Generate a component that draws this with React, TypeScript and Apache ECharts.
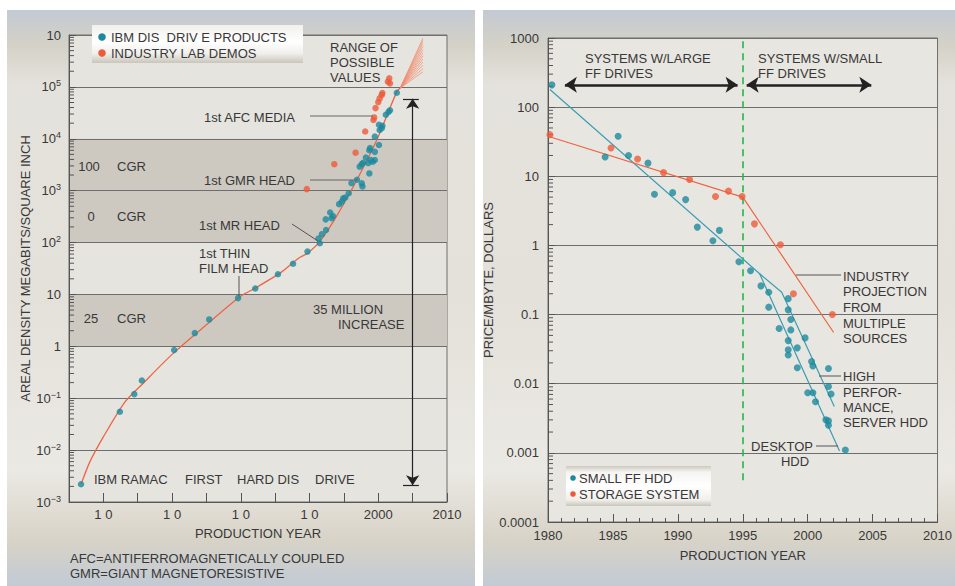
import React, { useEffect, useRef } from "react";
import * as echarts from "echarts";

const FONT = '"Liberation Sans", Arial, Helvetica, sans-serif';
const TEXT = "#383838";
const BLUE = "#1b8a9e";
const RED = "#ee5a3a";
const GRID = "#6e6e6e";

// ---------------- Left chart: areal density ----------------
const ibmYears = [1956.75, 1962.4, 1964.5, 1965.6, 1970.3, 1973.3, 1975.4, 1979.6, 1982.1, 1985.4, 1987.6, 1989.7, 1991.5, 1991.3, 1991.8, 1992.4, 1992.35, 1993.0, 1993.4, 1993.2, 1994.3, 1994.7, 1994.9, 1995.2, 1995.7, 1996.1, 1996.9, 1997.6, 1997.7, 1997.3, 1997.6, 1997.8, 1998.7, 1998.2, 1998.55, 1998.9, 1999.2, 1999.5, 1998.7, 1999.5, 2000.1, 1998.8, 1999.5, 2000.2, 2000.5, 2000.1, 2000.6, 2001.1, 2001.5, 2001.7, 2002.7];
const ibmDensity = [0.0022, 0.055, 0.12, 0.22, 0.85, 1.8, 3.3, 8.5, 13, 24.5, 39, 67, 97, 120, 145, 175, 280, 380, 325, 295, 550, 615, 710, 740, 890, 1400, 1620, 1380, 1200, 2900, 3250, 3450, 2150, 4350, 3400, 3900, 3600, 3900, 6000, 5600, 7600, 6600, 11000, 14800, 16000, 18600, 17800, 29000, 33000, 35500, 77000];
const demoYears = [1989.6, 1993.6, 1996.7, 1998.1, 1999.3, 1999.4, 1999.6, 2000.0, 2000.2, 2000.5, 2000.6, 2001.4, 2001.6, 2001.7];
const demoDensity = [1070, 3240, 5400, 13800, 23000, 25800, 39000, 51000, 60000, 70000, 76000, 126000, 147000, 117000];
const trendYears = [1956.75, 1958.05, 1960.0, 1963.15, 1965.8, 1970, 1975, 1980, 1982.1, 1986, 1988.4, 1989.7, 1991.5, 1993.9, 1996.9, 1999.8, 2002.7, 2003.2];
const trendDensity = [0.0022, 0.006, 0.018, 0.085, 0.195, 0.7, 2.6, 9.3, 13.2, 27.5, 50, 62, 105, 316, 1620, 9550, 81000, 95000];
const fanStartYear = 2003.2;
const fanStartDensity = 95000;
const fanEndYear = 2006.5;
const fanEndDensity = [195000, 225000, 260000, 300000, 345000, 395000, 450000, 520000, 600000, 690000, 780000, 870000];
const bandLow = [100, 1];
const bandHigh = [10000, 10];
const leftLabelYears = [1960, 1970, 1980, 1990, 2000, 2010];
const leftLabelTexts = ["1 0", "1 0", "1 0", "1 0", "2000", "2010"];
const increaseYear = 2005;
const increaseFrom = 0.0021;
const increaseTo = 59000;
const capFromYear = 2003.6;
const capToYear = 2005.9;
const leftDecades = [0.001, 0.01, 0.1, 1, 10, 100, 1000, 10000, 100000];

// ---------------- Right chart: price per MByte ----------------
const hddYears = [1980.3, 1984.4, 1985.4, 1986.2, 1987.7, 1988.2, 1989.6, 1990.6, 1991.5, 1993.2, 1992.7, 1994.7, 1995.6, 1996.4, 1997.0, 1997.0, 1998.5, 1998.5, 1998.7, 1997.8, 1998.7, 1998.5, 1999.8, 1998.5, 1999.2, 1998.5, 1999.2, 2000.3, 2000.4, 2001.6, 2001.6, 2001.8, 2000.0, 2000.4, 2000.6, 2001.4, 2001.6, 2001.6, 2002.9];
const hddPrice = [210, 19, 38, 20, 15.5, 5.5, 5.8, 4.6, 1.84, 1.65, 1.17, 0.58, 0.43, 0.26, 0.21, 0.128, 0.17, 0.117, 0.085, 0.063, 0.06, 0.042, 0.046, 0.031, 0.033, 0.026, 0.017, 0.021, 0.018, 0.0166, 0.0091, 0.0071, 0.0074, 0.0074, 0.0055, 0.003, 0.0029, 0.0025, 0.0011];
const storageYears = [1980.15, 1984.85, 1986.9, 1988.9, 1990.9, 1992.9, 1993.9, 1994.95, 1995.9, 1997.9, 1998.9, 2001.9];
const storagePrice = [40, 25.6, 17.8, 11.3, 9, 5.1, 6.1, 5.1, 2.05, 1.02, 0.2, 0.1];
const desktopYears = [1980.15, 1996.3, 2002.45];
const desktopPrice = [180, 0.39, 0.00106];
const serverYears = [1996.3, 1998.0, 2002.05];
const serverPrice = [0.39, 0.21, 0.0047];
const storageTrendYears = [1980.0, 1995.0, 2002.0];
const storageTrendPrice = [38, 5.0, 0.055];
const rightYLabels = ["0.0001", "0.001", "0.01", "0.1", "1", "10", "100", "1000"];
const splitYear = 1995;
const splitFrom = 0.0004;
const splitTo = 1000;
const arrowLevel = 210;
const largeSpan = [1981.3, 1994.6];
const smallSpan = [1995.3, 2004.9];
const rightDecades = [0.0001, 0.001, 0.01, 0.1, 1, 10, 100];

// log-axis minor tick multipliers (2..9 within each decade)
const minorSteps = [2, 3, 4, 5, 6, 7, 8, 9];

const pts = (xs: number[], ys: number[]) => xs.map((x, i) => [x, ys[i]]);
const minorTickData = (x0: number, decades: number[]) => {
  const out: number[][] = [];
  decades.forEach((d) => minorSteps.forEach((m) => out.push([x0, +(d * m).toPrecision(6)])));
  return out;
};

const txt = (text: string, x: number, y: number, align = "left", extra: any = {}) => ({
  type: "text",
  x,
  y,
  z: 30,
  silent: true,
  style: { text, fill: TEXT, fontSize: 13, fontFamily: FONT, align, verticalAlign: "middle", ...extra },
});
const seg = (x1: number, y1: number, x2: number, y2: number, color = "#555", w = 1) => ({
  type: "line",
  z: 30,
  silent: true,
  shape: { x1, y1, x2, y2 },
  style: { stroke: color, lineWidth: w },
});

const panelFill = {
  type: "linear",
  x: 0,
  y: 0,
  x2: 0,
  y2: 1,
  colorStops: [
    { offset: 0, color: "#c3cad3" },
    { offset: 0.06, color: "#d4d1c7" },
    { offset: 0.13, color: "#e4e2dc" },
    { offset: 0.5, color: "#e4e1da" },
    { offset: 0.8, color: "#ebe9e4" },
    { offset: 0.92, color: "#d8d3c7" },
    { offset: 1, color: "#c2cad4" },
  ],
};

const legendFillLeft = {
  type: "linear",
  x: 0,
  y: 0,
  x2: 0,
  y2: 1,
  colorStops: [
    { offset: 0, color: "#f1f0ec" },
    { offset: 0.45, color: "#ffffff" },
    { offset: 0.75, color: "#f0efeb" },
    { offset: 1, color: "#c9c5bb" },
  ],
};
const legendFillRight = {
  type: "linear",
  x: 0,
  y: 0,
  x2: 0,
  y2: 1,
  colorStops: [
    { offset: 0, color: "#cdc9c0" },
    { offset: 0.15, color: "#f5f4f1" },
    { offset: 0.5, color: "#ffffff" },
    { offset: 0.85, color: "#f0efeb" },
    { offset: 1, color: "#c9c5bb" },
  ],
};

const leftYFormatter = (v: number) => {
  const e = Math.round(Math.log10(v));
  if (e === 6 || e === 1) return "{n|10}";
  if (e === 0) return "{n|1}";
  return `{n|10}{s|${e < 0 ? "\u2212" : ""}${Math.abs(e)}}`;
};

const ms = (coordA: number[], coordB: number[], extra: any = {}) => [
  { coord: coordA, ...extra },
  { coord: coordB, ...extra },
];

const minorTickSeries = (xi: number, data: number[][]) => ({
  name: "minor ticks " + xi,
  type: "custom",
  xAxisIndex: xi,
  yAxisIndex: xi,
  z: 4,
  silent: true,
  clip: false,
  data,
  renderItem: (_p: any, api: any) => {
    const p = api.coord([api.value(0), api.value(1)]);
    return {
      type: "line",
      shape: { x1: p[0], y1: p[1], x2: p[0] + 5, y2: p[1] },
      style: { stroke: "#555", lineWidth: 1 },
    };
  },
});

const option: any = {
  animation: false,
  textStyle: { fontFamily: FONT },
  grid: [
    { left: 69, top: 35, width: 378, height: 467, show: true, backgroundColor: "#e6e4df", borderColor: GRID, borderWidth: 1, z: 0 },
    { left: 548, top: 38, width: 390, height: 484, show: true, backgroundColor: "#e8e6e1", borderColor: GRID, borderWidth: 1, z: 0 },
  ],
  xAxis: [
    {
      type: "value",
      gridIndex: 0,
      min: 1955,
      max: 2010,
      interval: 5,
      z: 3,
      axisLine: { lineStyle: { color: "#555" } },
      axisTick: { inside: true, length: 9, lineStyle: { color: "#555" } },
      axisLabel: {
        margin: 6,
        color: TEXT,
        fontSize: 13,
        formatter: (v: number) => {
          const i = leftLabelYears.indexOf(v);
          return i >= 0 ? leftLabelTexts[i] : "";
        },
      },
      splitLine: { show: false },
      name: "PRODUCTION YEAR",
      nameLocation: "middle",
      nameGap: 25,
      nameTextStyle: { color: TEXT, fontSize: 13 },
    },
    {
      type: "value",
      gridIndex: 1,
      min: 1980,
      max: 2010,
      interval: 5,
      z: 3,
      axisLine: { lineStyle: { color: "#555" } },
      axisTick: { inside: true, length: 8, lineStyle: { color: "#555" } },
      minorTick: { show: true, splitNumber: 5, length: 4, lineStyle: { color: "#555" } },
      axisLabel: { margin: 7, color: TEXT, fontSize: 13, formatter: (v: number) => String(v) },
      splitLine: { show: false },
      name: "PRODUCTION YEAR",
      nameLocation: "middle",
      nameGap: 27,
      nameTextStyle: { color: TEXT, fontSize: 13 },
    },
  ],
  yAxis: [
    {
      type: "log",
      logBase: 10,
      gridIndex: 0,
      min: 0.001,
      max: 1000000,
      splitNumber: 9,
      z: 3,
      axisLine: { lineStyle: { color: "#555" } },
      axisTick: { inside: true, length: 7, lineStyle: { color: "#555" } },
      splitLine: { show: true, lineStyle: { color: GRID, width: 1 } },
      axisLabel: {
        margin: 8,
        formatter: leftYFormatter,
        rich: {
          n: { fontSize: 13, color: TEXT, fontFamily: FONT, lineHeight: 16 },
          s: { fontSize: 9, color: TEXT, fontFamily: FONT, lineHeight: 9, verticalAlign: "top" },
        },
      },
      name: "AREAL DENSITY MEGABITS/SQUARE INCH",
      nameLocation: "middle",
      nameGap: 34,
      nameTextStyle: { color: TEXT, fontSize: 13 },
    },
    {
      type: "log",
      logBase: 10,
      gridIndex: 1,
      min: 0.0001,
      max: 1000,
      splitNumber: 7,
      z: 3,
      axisLine: { lineStyle: { color: "#555" } },
      axisTick: { inside: true, length: 7, lineStyle: { color: "#555" } },
      splitLine: { show: true, lineStyle: { color: GRID, width: 1 } },
      axisLabel: {
        margin: 9,
        color: TEXT,
        fontSize: 13,
        formatter: (v: number) => rightYLabels[Math.round(Math.log10(v)) + 4] ?? "",
      },
      name: "PRICE/MBYTE, DOLLARS",
      nameLocation: "middle",
      nameGap: 38,
      nameTextStyle: { color: TEXT, fontSize: 13 },
    },
  ],
  series: [
    {
      name: "bands",
      type: "line",
      xAxisIndex: 0,
      yAxisIndex: 0,
      z: 1,
      silent: true,
      symbol: "none",
      data: [[1955, 1]],
      lineStyle: { width: 0 },
      markArea: {
        silent: true,
        itemStyle: { color: "#cdc9c1" },
        data: bandLow.map((lo, i) => [{ yAxis: lo }, { yAxis: bandHigh[i] }]),
      },
    },
    minorTickSeries(0, minorTickData(1955, leftDecades)),
    {
      name: "range",
      type: "line",
      xAxisIndex: 0,
      yAxisIndex: 0,
      z: 4,
      silent: true,
      symbol: "none",
      data: [[fanStartYear, fanStartDensity]],
      lineStyle: { width: 0 },
      markLine: {
        silent: true,
        symbol: "none",
        label: { show: false },
        lineStyle: { color: "#f08a6c", width: 0.7, type: "solid" },
        data: fanEndDensity.map((v) => ms([fanStartYear, fanStartDensity], [fanEndYear, v])),
      },
    },
    {
      name: "trend",
      type: "line",
      xAxisIndex: 0,
      yAxisIndex: 0,
      z: 5,
      symbol: "none",
      smooth: 0.25,
      data: pts(trendYears, trendDensity),
      lineStyle: { color: "#ee6444", width: 1.3 },
    },
    {
      name: "increase",
      type: "line",
      xAxisIndex: 0,
      yAxisIndex: 0,
      z: 5,
      silent: true,
      symbol: "none",
      data: [[increaseYear, increaseTo]],
      lineStyle: { width: 0 },
      markLine: {
        silent: true,
        label: { show: false },
        symbol: ["arrow", "arrow"],
        symbolSize: 10,
        lineStyle: { color: "#222", width: 1.2, type: "solid" },
        data: [
          ms([increaseYear, increaseFrom], [increaseYear, increaseTo]),
          ms([capFromYear, increaseTo], [capToYear, increaseTo], { symbol: "none" }),
          ms([capFromYear, increaseFrom], [capToYear, increaseFrom], { symbol: "none" }),
        ],
      },
    },
    {
      name: "INDUSTRY LAB DEMOS",
      type: "scatter",
      xAxisIndex: 0,
      yAxisIndex: 0,
      z: 6,
      symbolSize: 6.5,
      itemStyle: { color: RED },
      data: pts(demoYears, demoDensity),
    },
    {
      name: "IBM DISK DRIVE PRODUCTS",
      type: "scatter",
      xAxisIndex: 0,
      yAxisIndex: 0,
      z: 7,
      symbolSize: 6.5,
      itemStyle: { color: BLUE },
      data: pts(ibmYears, ibmDensity),
    },
    // ---------- right ----------
    minorTickSeries(1, minorTickData(1980, rightDecades)),
    {
      name: "split",
      type: "line",
      xAxisIndex: 1,
      yAxisIndex: 1,
      z: 4,
      silent: true,
      symbol: "none",
      data: [[splitYear, splitTo]],
      lineStyle: { width: 0 },
      markLine: {
        silent: true,
        label: { show: false },
        symbol: "none",
        data: [
          ms([splitYear, splitFrom], [splitYear, splitTo], { lineStyle: { color: "#22b84a", width: 1.6, type: [7, 5] } }),
          ms([largeSpan[0], arrowLevel], [largeSpan[1], arrowLevel], {
            symbol: "arrow",
            symbolSize: 12,
            lineStyle: { color: "#222", width: 2.6, type: "solid" },
          }),
          ms([smallSpan[0], arrowLevel], [smallSpan[1], arrowLevel], {
            symbol: "arrow",
            symbolSize: 12,
            lineStyle: { color: "#222", width: 2.6, type: "solid" },
          }),
        ],
      },
    },
    {
      name: "desktop trend",
      type: "line",
      xAxisIndex: 1,
      yAxisIndex: 1,
      z: 5,
      symbol: "none",
      data: pts(desktopYears, desktopPrice),
      lineStyle: { color: "#3c9db2", width: 1.2 },
    },
    {
      name: "server trend",
      type: "line",
      xAxisIndex: 1,
      yAxisIndex: 1,
      z: 5,
      symbol: "none",
      data: pts(serverYears, serverPrice),
      lineStyle: { color: "#3c9db2", width: 1.2 },
    },
    {
      name: "storage trend",
      type: "line",
      xAxisIndex: 1,
      yAxisIndex: 1,
      z: 5,
      symbol: "none",
      data: pts(storageTrendYears, storageTrendPrice),
      lineStyle: { color: "#ee6444", width: 1.2 },
    },
    {
      name: "STORAGE SYSTEM",
      type: "scatter",
      xAxisIndex: 1,
      yAxisIndex: 1,
      z: 6,
      symbolSize: 7,
      itemStyle: { color: RED },
      data: pts(storageYears, storagePrice),
    },
    {
      name: "SMALL FF HDD",
      type: "scatter",
      xAxisIndex: 1,
      yAxisIndex: 1,
      z: 7,
      symbolSize: 7,
      itemStyle: { color: BLUE },
      data: pts(hddYears, hddPrice),
    },
  ],
  graphic: [
    { type: "rect", z: -10, silent: true, shape: { x: 7, y: 10, width: 468, height: 576 }, style: { fill: panelFill } },
    { type: "rect", z: -10, silent: true, shape: { x: 483, y: 10, width: 472, height: 576 }, style: { fill: panelFill } },
    // left legend
    { type: "rect", z: 25, silent: true, shape: { x: 92, y: 25, width: 211, height: 38 }, style: { fill: legendFillLeft } },
    { type: "circle", z: 30, silent: true, shape: { cx: 102, cy: 37, r: 3.8 }, style: { fill: BLUE } },
    { type: "circle", z: 30, silent: true, shape: { cx: 102, cy: 53, r: 3.8 }, style: { fill: RED } },
    txt("IBM DIS  DRIV E PRODUCTS", 111, 37),
    txt("INDUSTRY LAB DEMOS", 111, 53),
    // left annotations
    txt("RANGE OF", 330, 47),
    txt("POSSIBLE", 330, 62),
    txt("VALUES", 330, 77),
    txt("1st AFC MEDIA", 295, 117, "right"),
    seg(310, 116, 373, 116, "#666"),
    txt("100", 89, 166, "center"),
    txt("CGR", 117, 166),
    txt("1st GMR HEAD", 295, 180, "right"),
    seg(310, 180, 357, 180, "#666"),
    txt("0", 91, 216, "center"),
    txt("CGR", 117, 216),
    txt("1st MR HEAD", 199, 225),
    seg(292, 224, 318, 241, "#555"),
    txt("1st THIN", 199, 253),
    txt("FILM HEAD", 199, 268),
    seg(239, 276, 239, 296, "#555"),
    txt("25", 91, 318, "center"),
    txt("CGR", 117, 318),
    txt("35 MILLION", 313, 309),
    txt("INCREASE", 338, 324),
    txt("IBM RAMAC", 94, 479),
    txt("FIRST", 185, 479),
    txt("HARD DIS", 237, 479),
    txt("DRIVE", 315, 479),
    txt("AFC=ANTIFERROMAGNETICALLY COUPLED", 70, 558),
    txt("GMR=GIANT MAGNETORESISTIVE", 70, 573),
    // right annotations
    txt("SYSTEMS W/LARGE", 585, 58),
    txt("FF DRIVES", 585, 73),
    txt("SYSTEMS W/SMALL", 758, 58),
    txt("FF DRIVES", 758, 73),
    seg(796, 275, 841, 275, "#555"),
    txt("INDUSTRY", 843, 276),
    txt("PROJECTION", 843, 291),
    txt("FROM", 843, 307),
    txt("MULTIPLE", 843, 323),
    txt("SOURCES", 843, 338),
    seg(819, 376, 841, 376, "#555"),
    txt("HIGH", 843, 376),
    txt("PERFOR-", 843, 392),
    txt("MANCE,", 843, 407),
    txt("SERVER HDD", 843, 422),
    txt("DESKTOP", 813, 446, "right"),
    seg(816, 446, 838, 446, "#555"),
    txt("HDD", 795, 461, "center"),
    // right legend
    { type: "rect", z: 25, silent: true, shape: { x: 566, y: 466, width: 145, height: 40 }, style: { fill: legendFillRight } },
    { type: "circle", z: 30, silent: true, shape: { cx: 573, cy: 478, r: 2.8 }, style: { fill: BLUE } },
    { type: "circle", z: 30, silent: true, shape: { cx: 573, cy: 494, r: 2.8 }, style: { fill: RED } },
    txt("SMALL FF HDD", 579, 478),
    txt("STORAGE SYSTEM", 579, 494),
  ],
};

export default function App() {
  const ref = useRef<HTMLDivElement>(null);
  useEffect(() => {
    document.body.style.margin = "0";
    const chart = echarts.init(ref.current as HTMLDivElement, undefined, { renderer: "svg" });
    chart.setOption(option);
    return () => chart.dispose();
  }, []);
  return <div ref={ref} style={{ width: 955, height: 586 }} />;
}
